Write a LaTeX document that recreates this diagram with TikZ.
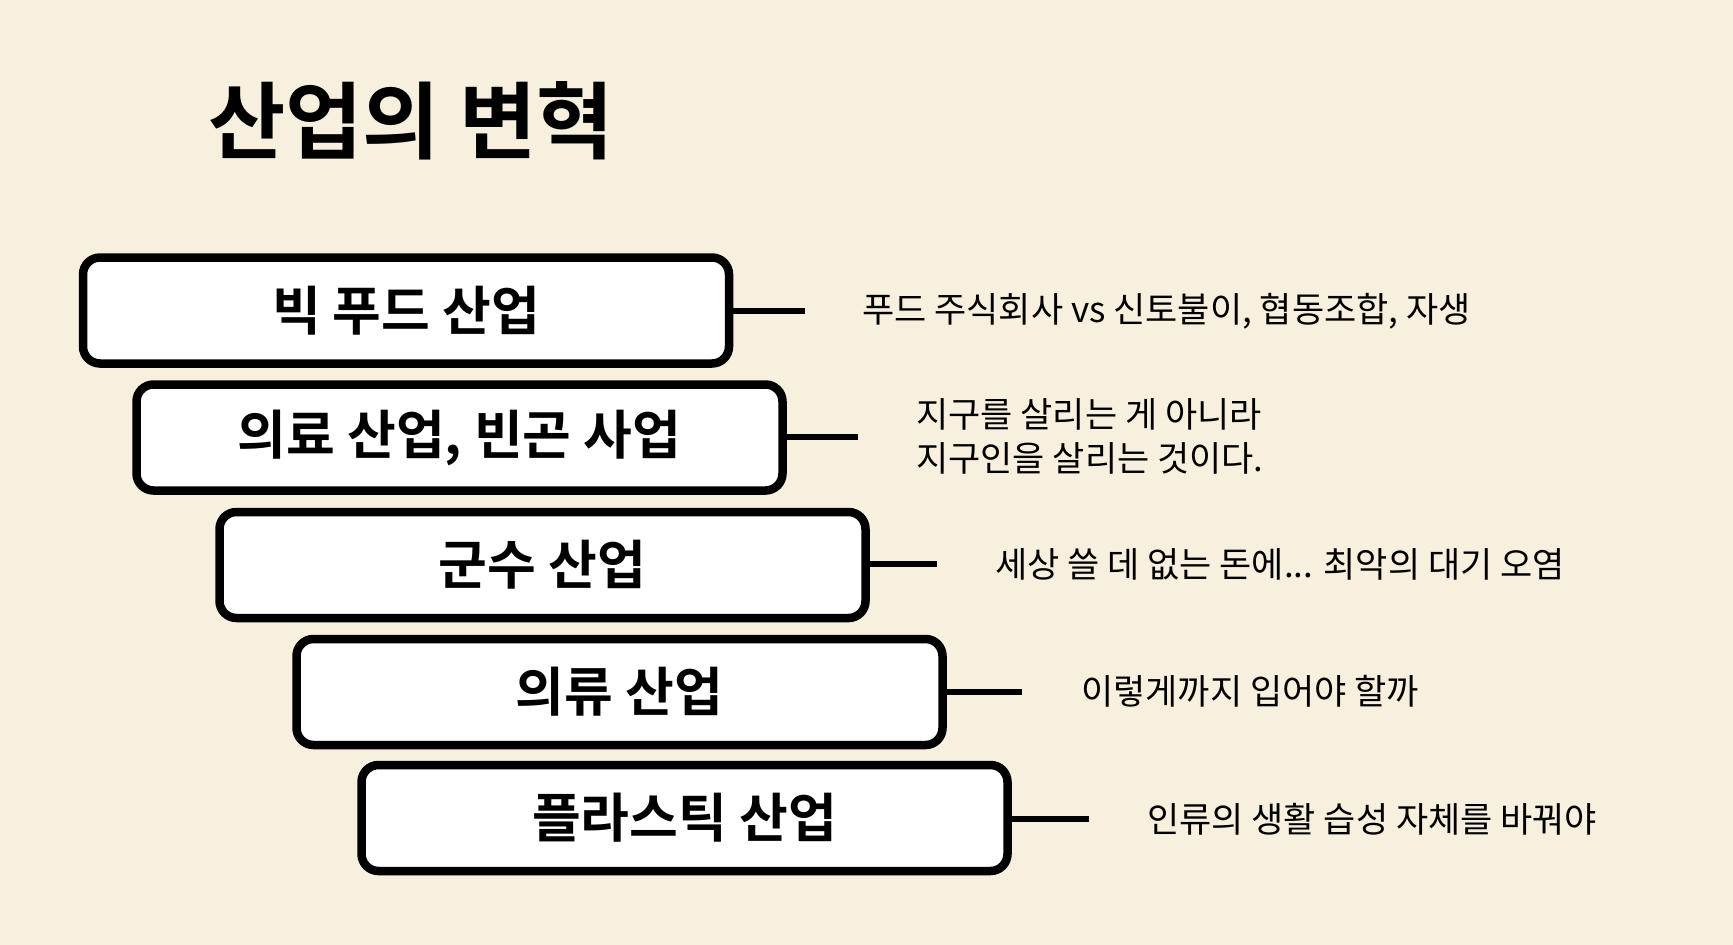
\documentclass[tikz,border=0pt]{standalone}
\usepackage{fontspec}
\newfontfamily\kr{Noto Sans CJK KR}
\newfontfamily\krb{Noto Sans CJK KR Bold}
\definecolor{bg}{RGB}{248,240,222}
\tikzset{
  box/.style={draw=black, fill=white, line width=8.5pt, rounded corners=17pt,
    minimum width=646pt, minimum height=106pt, inner sep=0pt,
    font=\krb\fontsize{53}{60}\selectfont},
  conn/.style={line width=5.5pt},
  note/.style={anchor=west, inner sep=0pt, align=left,
    font=\kr\fontsize{35}{44}\selectfont}
}
\begin{document}
\begin{tikzpicture}[x=1pt,y=-1pt]
\useasboundingbox (0,0) rectangle (1733,945);
\fill[bg] (0,0) rectangle (1733,945);
\node[anchor=west, inner sep=0pt, font=\krb\fontsize{84}{90}\selectfont] (title) at (208,121) {산업의 변혁};
\node[box] (b1) at (406,310.5) {빅 푸드 산업};
\node[box] (b2) at (459.5,437.5) {의료 산업, 빈곤 사업};
\node[box] (b3) at (542.5,565) {군수 산업};
\node[box] (b4) at (619.5,692) {의류 산업};
\node[box] (b5) at (684.5,818) {플라스틱 산업};
\coordinate (c1) at (805,311);
\coordinate (c2) at (858,437);
\coordinate (c3) at (937,564);
\coordinate (c4) at (1022,692);
\coordinate (c5) at (1089,819);
\draw[conn] (b1.east |- c1) -- (c1);
\draw[conn] (b2.east |- c2) -- (c2);
\draw[conn] (b3.east |- c3) -- (c3);
\draw[conn] (b4.east |- c4) -- (c4);
\draw[conn] (b5.east |- c5) -- (c5);
\node[note] (t1) at (862,311) {푸드 주식회사 vs 신토불이, 협동조합, 자생};
\node[note] (t2) at (916,436) {지구를 살리는 게 아니라\\지구인을 살리는 것이다.};
\node[note] (t3) at (995,564) {세상 쓸 데 없는 돈에... 최악의 대기 오염};
\node[note] (t4) at (1081,691) {이렇게까지 입어야 할까};
\node[note] (t5) at (1147,819) {인류의 생활 습성 자체를 바꿔야};
\end{tikzpicture}
\end{document}
